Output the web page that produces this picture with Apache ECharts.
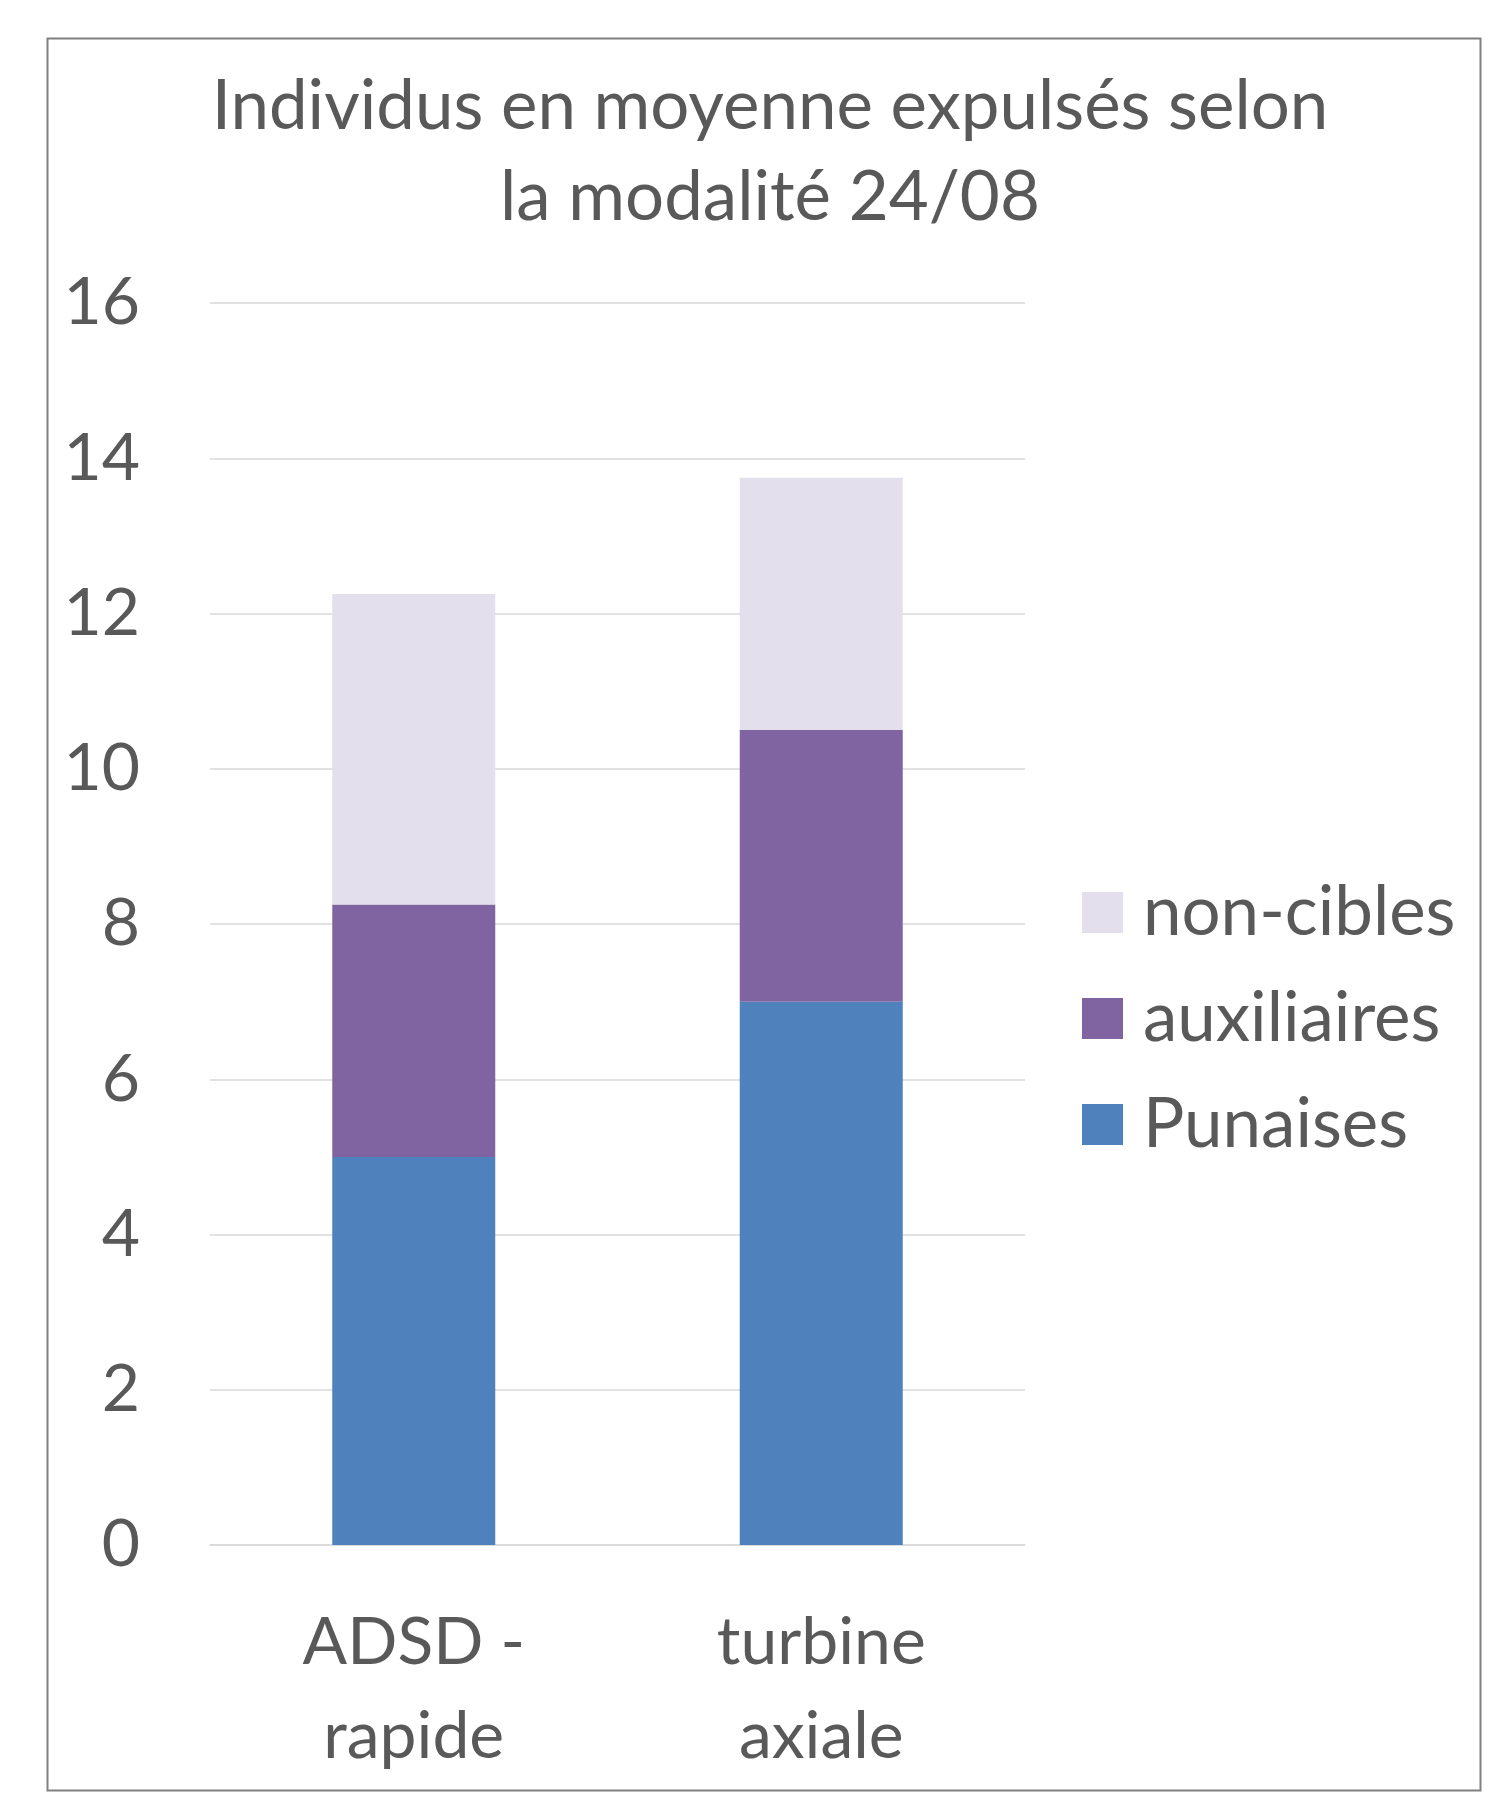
<!DOCTYPE html>
<html>
<head>
<meta charset="utf-8">
<script src="https://cdn.jsdelivr.net/npm/echarts@6/dist/echarts.min.js"></script>
<style>
html,body{margin:0;padding:0;background:#fff;}
#chart{width:1497px;height:1797px;}
</style>
</head>
<body>
<div id="chart"></div>
<script>
const categories = ['ADSD -\nrapide', 'turbine\naxiale'];
const punaises = [5, 7];
const auxiliaires = [3.25, 3.5];
const nonCibles = [4, 3.25];
const yTicks = { min: 0, max: 16, interval: 2 };
const titleText = 'Individus en moyenne expulsés selon\nla modalité 24/08';

const FONT = 'Lato';
const TXT = '#595959';
const chart = echarts.init(document.getElementById('chart'), null, { renderer: 'canvas' });
chart.setOption({
  backgroundColor: '#ffffff',
  animation: false,
  graphic: [{
    type: 'rect',
    shape: { x: 47.5, y: 38.5, width: 1433, height: 1752 },
    style: { fill: 'none', stroke: '#808080', lineWidth: 2 },
    silent: true
  }],
  title: {
    text: titleText,
    left: 765,
    top: 56,
    textAlign: 'center',
    textStyle: { fontFamily: FONT, fontSize: 69, fontWeight: 'normal', color: TXT, lineHeight: 91 }
  },
  legend: {
    orient: 'vertical',
    left: 1077,
    top: 873,
    itemWidth: 41,
    itemHeight: 41,
    itemGap: 37,
    icon: 'rect',
    data: ['non-cibles', 'auxiliaires', 'Punaises'],
    textStyle: { fontFamily: FONT, fontSize: 69, color: TXT, lineHeight: 41, padding: [0, 0, 0, 15] }
  },
  grid: { left: 210, right: 472, top: 303, bottom: 252, containLabel: false },
  xAxis: {
    type: 'category',
    data: categories,
    axisLine: { show: true, lineStyle: { color: '#D9D9D9', width: 1.5 } },
    axisTick: { show: false },
    axisLabel: { fontFamily: FONT, fontSize: 66, color: TXT, lineHeight: 94, margin: 51, interval: 0 }
  },
  yAxis: {
    type: 'value',
    min: yTicks.min, max: yTicks.max, interval: yTicks.interval,
    axisLine: { show: false },
    axisTick: { show: false },
    splitLine: { lineStyle: { color: '#D9D9D9', width: 1.5 } },
    axisLabel: { fontFamily: FONT, fontSize: 66, color: TXT, margin: 70 }
  },
  series: [
    { name: 'Punaises', type: 'bar', stack: 'a', data: punaises, barWidth: '40%', itemStyle: { color: '#4F81BD' } },
    { name: 'auxiliaires', type: 'bar', stack: 'a', data: auxiliaires, barWidth: '40%', itemStyle: { color: '#8064A2' } },
    { name: 'non-cibles', type: 'bar', stack: 'a', data: nonCibles, barWidth: '40%', itemStyle: { color: '#E4DFEC' } }
  ]
});
</script>
</body>
</html>
